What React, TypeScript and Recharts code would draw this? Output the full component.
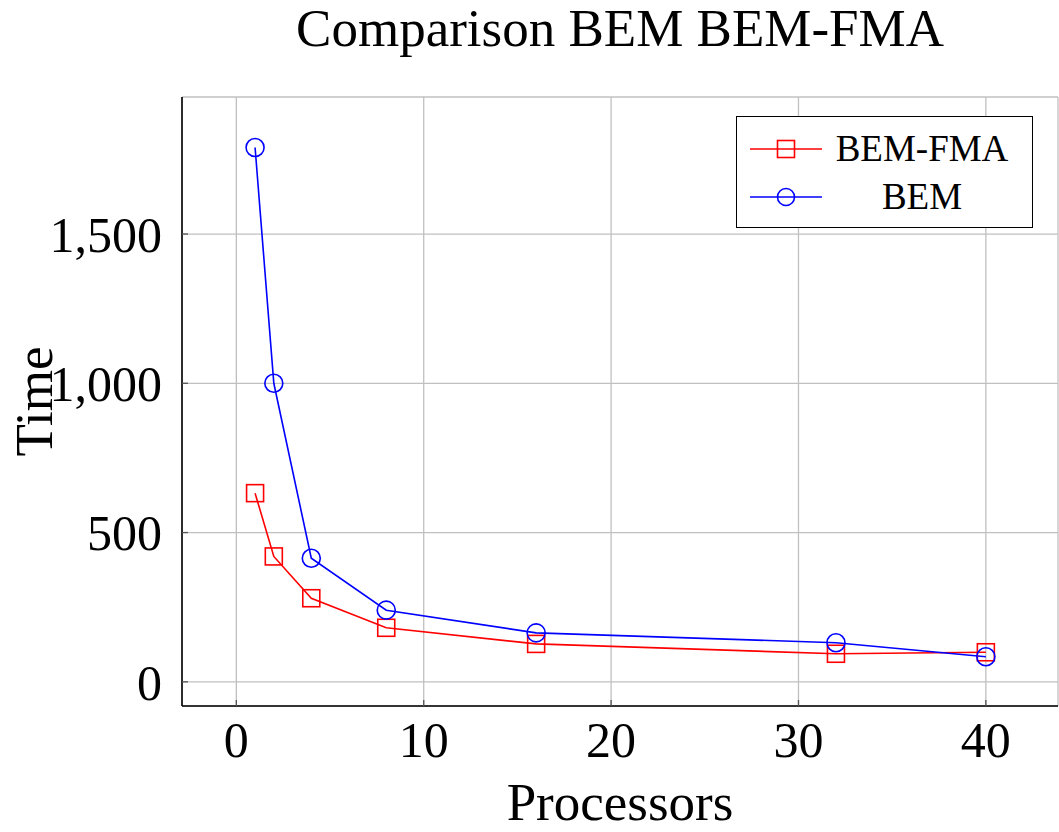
import React from "react";
import { LineChart, Line, XAxis, YAxis, CartesianGrid } from "recharts";

const processors = [1, 2, 4, 8, 16, 32, 40];
const bemFmaTimes = [632, 420, 280, 181, 127, 94, 99];
const bemTimes = [1790, 1000, 414, 240, 164, 131, 84];
const xTicks = [0, 10, 20, 30, 40];
const yTicks = [0, 500, 1000, 1500];

const data = processors.map((p, i) => ({ p, fma: bemFmaTimes[i], bem: bemTimes[i] }));

const FONT = '"Liberation Serif", "Times New Roman", serif';
const RED = "#ff0000";
const BLUE = "#0000ff";

const SquareDot = (props: any) => {
  const { cx, cy } = props;
  if (cx == null || cy == null) return null;
  return <rect x={cx - 8.5} y={cy - 8.5} width={17} height={17} fill="none" stroke={RED} strokeWidth={1.6} />;
};

const CircleDot = (props: any) => {
  const { cx, cy } = props;
  if (cx == null || cy == null) return null;
  return <circle cx={cx} cy={cy} r={9} fill="none" stroke={BLUE} strokeWidth={1.6} />;
};

const LegendBox = () => (
  <div
    style={{
      position: "absolute",
      left: 736,
      top: 116,
      width: 295,
      height: 110,
      border: "1.6px solid #000",
      background: "#fff",
      fontFamily: FONT,
      fontSize: 37,
    }}
  >
    {[
      { name: "BEM-FMA", color: RED, marker: "square", y: 32 },
      { name: "BEM", color: BLUE, marker: "circle", y: 80 },
    ].map((it) => (
      <div key={it.name} style={{ position: "absolute", left: 0, top: it.y - 24, width: "100%", height: 48 }}>
        <svg width={90} height={48} style={{ position: "absolute", left: 0, top: 0 }}>
          <line x1={13} x2={85} y1={24} y2={24} stroke={it.color} strokeWidth={1.6} />
          {it.marker === "square" ? (
            <rect x={40.5} y={15.5} width={17} height={17} fill="none" stroke={it.color} strokeWidth={1.6} />
          ) : (
            <circle cx={49} cy={24} r={8.5} fill="none" stroke={it.color} strokeWidth={1.6} />
          )}
        </svg>
        <div
          style={{
            position: "absolute",
            left: 92,
            width: 186,
            top: 0,
            height: 48,
            lineHeight: "48px",
            textAlign: "center",
          }}
        >
          {it.name}
        </div>
      </div>
    ))}
  </div>
);

export default function App() {
  return (
    <div style={{ position: "relative", width: 1059, height: 832, background: "#fff" }}>
      <style>{`body{margin:0}`}</style>
      <div
        style={{
          position: "absolute",
          left: 182,
          width: 876,
          top: -1,
          textAlign: "center",
          fontFamily: FONT,
          fontSize: 53,
          lineHeight: "58px",
        }}
      >
        Comparison BEM BEM-FMA
      </div>
      <div style={{ position: "absolute", left: 0, top: 0 }}>
        <LineChart width={1059} height={832} data={data} margin={{ top: 97, right: 1, bottom: 0, left: 0 }}>
          <CartesianGrid stroke="#c0c0c0" strokeWidth={1.3} />
          <XAxis
            dataKey="p"
            type="number"
            domain={[-2.9, 43.85]}
            ticks={xTicks}
            allowDataOverflow
            height={126}
            axisLine={{ stroke: "#000", strokeWidth: 1.6 }}
            tickLine={{ stroke: "#555", strokeWidth: 1.3 }}
            tickSize={-6}
            tickMargin={21}
            tick={{ fill: "#000", fontFamily: FONT, fontSize: 50 }}
            label={{
              value: "Processors",
              position: "insideBottom",
              offset: 12,
              style: { fill: "#000", fontFamily: FONT, fontSize: 53 },
            }}
          />
          <XAxis
            xAxisId="top"
            orientation="top"
            dataKey="p"
            type="number"
            domain={[-2.9, 43.85]}
            ticks={xTicks}
            allowDataOverflow
            height={0}
            tick={false}
            axisLine={{ stroke: "#000", strokeWidth: 1.6 }}
            tickLine={{ stroke: "#555", strokeWidth: 1.3 }}
            tickSize={-6}
          />
          <YAxis
            type="number"
            domain={[-81, 1959]}
            ticks={yTicks}
            allowDataOverflow
            width={182}
            axisLine={{ stroke: "#000", strokeWidth: 1.6 }}
            tickLine={{ stroke: "#555", strokeWidth: 1.3 }}
            tickSize={-6}
            tickMargin={26}
            tickFormatter={(v: number) => v.toLocaleString("en-US")}
            tick={{ fill: "#000", fontFamily: FONT, fontSize: 50 }}
            label={{
              value: "Time",
              angle: -90,
              position: "insideLeft",
              offset: 33,
              style: { fill: "#000", fontFamily: FONT, fontSize: 53, textAnchor: "middle" },
            }}
          />
          <YAxis
            yAxisId="right"
            orientation="right"
            type="number"
            domain={[-81, 1959]}
            ticks={yTicks}
            allowDataOverflow
            width={0}
            tick={false}
            axisLine={{ stroke: "#000", strokeWidth: 1.6 }}
            tickLine={{ stroke: "#555", strokeWidth: 1.3 }}
            tickSize={-6}
          />
          <Line
            dataKey="fma"
            name="BEM-FMA"
            type="linear"
            stroke={RED}
            strokeWidth={1.6}
            dot={<SquareDot />}
            activeDot={false}
            isAnimationActive={false}
          />
          <Line
            dataKey="bem"
            name="BEM"
            type="linear"
            stroke={BLUE}
            strokeWidth={1.6}
            dot={<CircleDot />}
            activeDot={false}
            isAnimationActive={false}
          />
        </LineChart>
      </div>
      <LegendBox />
    </div>
  );
}
